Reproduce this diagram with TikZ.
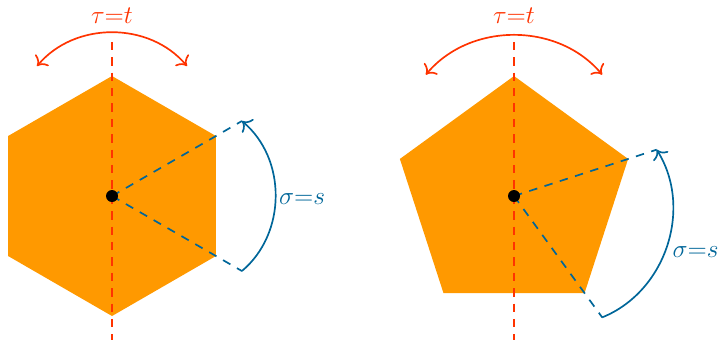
\documentclass[tikz,border=0pt]{standalone}
\usepackage{amsmath, amssymb}
\usepackage{tikz}
\usetikzlibrary{
  arrows.meta,
  calc
}
\usepackage{xcolor}
\definecolor{symorange}{HTML}{FF9900}
\definecolor{symred}{HTML}{FF3300}
\definecolor{symblue}{HTML}{006699}
\tikzset{
  shapefill/.style={fill=symorange, draw=none},
  axisline/.style={symred, dash pattern=on 4pt off 3.3pt, thick},
  rayline/.style={symblue, dash pattern=on 4pt off 3.6pt, thick},
  flipmark/.style={symred, thick, {To[length=4pt]}-{To[length=4pt]}},
  turnmark/.style={symblue, thick, -{To[length=4pt]}},
  centerdot/.style={circle, fill=black, inner sep=0pt, minimum size=0.2cm},
}

\begin{document}
\begin{tikzpicture}[x=1cm, y=1cm]
\useasboundingbox (-1.867, -2.4) rectangle (10.133, 3.267);

% Hexagon (left)
\coordinate (hc) at (0, 0);
\fill[shapefill] (90:2) \foreach \a in {150, 210, ..., 390} { -- (\a:2) } -- cycle;

% reflection axis and flip
\coordinate (hax1) at (0, 2.57);
\coordinate (hax2) at (0, -2.4);
\draw[axisline] (hax1) -- (hax2);
\coordinate (hf1) at (120:2.5);
\coordinate (hf2) at (60:2.5);
\draw[flipmark] (hf1) to[bend left=50] (hf2);
\node[symred, font=\large] (htau) at (0, 3.0) {$\tau{=}t$};

% rotation rays and turn
\coordinate (hr1) at (-30:2.5);
\coordinate (hr2) at (30:2.5);
\draw[rayline] (hc) -- (hr1);
\draw[rayline] (hc) -- (hr2);
\draw[turnmark] (hr1) to[bend right=50] node[pos=0.48, right, font=\large, xshift=-2pt] (hsig) {$\sigma{=}s$} (hr2);
\node[centerdot] (hdot) at (hc) {};

% Pentagon (right)
\begin{scope}[shift={(6.7, 0)}]
\coordinate (pc) at (0, 0);
\fill[shapefill] (90:2) \foreach \a in {162, 234, 306, 378} { -- (\a:2) } -- cycle;

% reflection axis and flip
\coordinate (pax1) at (0, 2.57);
\coordinate (pax2) at (0, -2.4);
\draw[axisline] (pax1) -- (pax2);
\coordinate (pf1) at (126:2.5);
\coordinate (pf2) at (54:2.5);
\draw[flipmark] (pf1) to[bend left=50] (pf2);
\node[symred, font=\large] (ptau) at (0, 3.0) {$\tau{=}t$};

% rotation rays and turn
\coordinate (pr1) at (-54:2.5);
\coordinate (pr2) at (18:2.5);
\draw[rayline] (pc) -- (pr1);
\draw[rayline] (pc) -- (pr2);
\draw[turnmark] (pr1) to[bend right=50] node[pos=0.465, right, font=\large] (psig) {$\sigma{=}s$} (pr2);
\node[centerdot] (pdot) at (pc) {};
\end{scope}

\end{tikzpicture}
\end{document}
